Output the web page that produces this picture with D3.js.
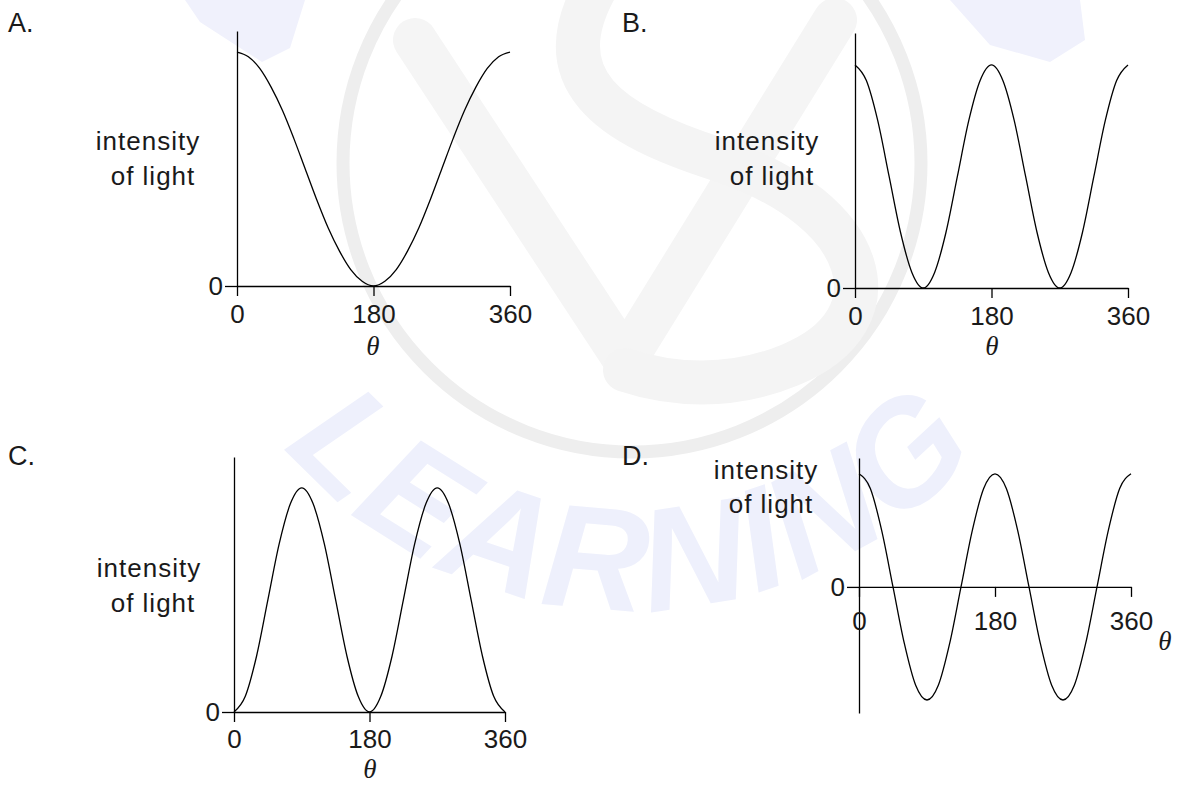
<!DOCTYPE html>
<html>
<head>
<meta charset="utf-8">
<script src="https://cdn.jsdelivr.net/npm/d3@7"></script>
<style>
  html, body { margin: 0; padding: 0; background: #fff; }
  svg { display: block; }
  text { font-family: "Liberation Sans", Arial, sans-serif; fill: #1a1a1a; }
</style>
</head>
<body>
<svg id="chart" width="1181" height="785"></svg>
<script>
// angle samples (degrees) and the four curves
var angles = [0, 15, 30, 45, 60, 75, 90, 105, 120, 135, 150, 165, 180,
              195, 210, 225, 240, 255, 270, 285, 300, 315, 330, 345, 360];

var seriesA = [1.00, 0.98, 0.93, 0.85, 0.75, 0.63, 0.50, 0.37, 0.25, 0.15, 0.07, 0.02, 0.00,
               0.02, 0.07, 0.15, 0.25, 0.37, 0.50, 0.63, 0.75, 0.85, 0.93, 0.98, 1.00];
var seriesB = [1.00, 0.93, 0.75, 0.50, 0.25, 0.07, 0.00, 0.07, 0.25, 0.50, 0.75, 0.93, 1.00,
               0.93, 0.75, 0.50, 0.25, 0.07, 0.00, 0.07, 0.25, 0.50, 0.75, 0.93, 1.00];
var seriesC = [0.00, 0.07, 0.25, 0.50, 0.75, 0.93, 1.00, 0.93, 0.75, 0.50, 0.25, 0.07, 0.00,
               0.07, 0.25, 0.50, 0.75, 0.93, 1.00, 0.93, 0.75, 0.50, 0.25, 0.07, 0.00];
var seriesD = [1.00, 0.87, 0.50, 0.00, -0.50, -0.87, -1.00, -0.87, -0.50, 0.00, 0.50, 0.87, 1.00,
               0.87, 0.50, 0.00, -0.50, -0.87, -1.00, -0.87, -0.50, 0.00, 0.50, 0.87, 1.00];

var xTickValues = [0, 180, 360];
var yTickValues = [0];
var panelNames = ["A.", "B.", "C.", "D."];
var yLabelLines = ["intensity", "of light"];
var xLabelText = "\u03b8";
var watermarkWord = "LEARNING";

// layout of each panel (pixels)
var panels = [
  { name: panelNames[0], values: seriesA, x0: 237, x1: 510, yBottom: 286, yTop: 31, yDomain: [0, 1.09],
    nameAt: [8, 32], labelAt: [[148, 150], [153, 185]], tickPad: 9, thetaAt: [373, 355] },
  { name: panelNames[1], values: seriesB, x0: 855, x1: 1128, yBottom: 288, yTop: 33, yDomain: [0, 1.143],
    nameAt: [622, 32], labelAt: [[767, 150], [772, 185]], tickPad: 9, thetaAt: [992, 355] },
  { name: panelNames[2], values: seriesC, x0: 234, x1: 505, yBottom: 712, yTop: 457, yDomain: [0, 1.138],
    nameAt: [8, 465], labelAt: [[149, 577], [153, 612]], tickPad: 8, thetaAt: [370, 778] },
  { name: panelNames[3], values: seriesD, x0: 859, x1: 1131, yBottom: 713, yTop: 458, yDomain: [-1.115, 1.14],
    nameAt: [622, 465], labelAt: [[766, 479], [771, 513]], tickPad: 15, thetaAt: [1165, 650] }
];

var svg = d3.select("#chart");
svg.append("rect").attr("width", 1181).attr("height", 785).attr("fill", "#fff");

// faint watermark behind the charts
var wm = svg.append("g").attr("class", "watermark");
wm.append("circle").attr("cx", 632).attr("cy", 163).attr("r", 289)
  .attr("fill", "none").attr("stroke", "#eeeeee").attr("stroke-width", 13);
wm.append("path").attr("d", "M415,40 L625,360 L835,20")
  .attr("fill", "none").attr("stroke", "#f5f5f5").attr("stroke-width", 44)
  .attr("stroke-linecap", "round").attr("stroke-linejoin", "round");
wm.append("path").attr("d", "M600,-20 C540,80 610,125 720,160 C870,210 900,320 790,365 C730,390 670,385 625,370")
  .attr("fill", "none").attr("stroke", "#f4f4f4").attr("stroke-width", 44)
  .attr("stroke-linecap", "round");
wm.append("path").attr("d", "M185,0 L305,0 L290,48 L262,62 L200,22 Z").attr("fill", "#f0f1fc");
wm.append("path").attr("d", "M950,0 L1080,0 L1085,40 L1050,62 L990,45 Z").attr("fill", "#f0f1fc");

var arcR = 452, arcCx = 632, arcCy = 158;
var a0 = 165 * Math.PI / 180, a1 = 15 * Math.PI / 180;
wm.append("path").attr("id", "wmArc").attr("fill", "none")
  .attr("d", "M" + (arcCx + arcR * Math.cos(a0)) + "," + (arcCy + arcR * Math.sin(a0)) +
        " A" + arcR + "," + arcR + " 0 0 0 " + (arcCx + arcR * Math.cos(a1)) + "," + (arcCy + arcR * Math.sin(a1)));
wm.append("text")
  .style("fill", "#eef0fc").attr("font-size", 146).attr("font-weight", 900).attr("font-style", "italic")
  .attr("letter-spacing", 4)
  .append("textPath").attr("href", "#wmArc").attr("startOffset", "50%").attr("text-anchor", "middle")
  .text(watermarkWord);

var line = d3.line().curve(d3.curveMonotoneX);

panels.forEach(function(p) {
  var x = d3.scaleLinear().domain([0, 360]).range([p.x0, p.x1]);
  var y = d3.scaleLinear().domain(p.yDomain).range([p.yBottom, p.yTop]);
  var g = svg.append("g");

  // y axis with the single 0 tick
  var yAxis = g.append("g").attr("transform", "translate(" + p.x0 + ",0)")
    .call(d3.axisLeft(y).tickValues(yTickValues).tickFormat(d3.format("d"))
      .tickSize(12).tickSizeOuter(0).tickPadding(2));

  // x axis through the zero line
  var xAxis = g.append("g").attr("transform", "translate(0," + y(0) + ")")
    .call(d3.axisBottom(x).tickValues(xTickValues).tickFormat(d3.format("d"))
      .tickSize(10).tickSizeOuter(0).tickPadding(p.tickPad));

  [yAxis, xAxis].forEach(function(ax) {
    ax.selectAll("path, line").attr("stroke", "#000").attr("stroke-width", 1.3);
    ax.selectAll("text").attr("font-size", 26).attr("font-family", "'Liberation Sans', Arial, sans-serif")
      .style("fill", "#1a1a1a");
  });

  // curve
  g.append("path")
    .attr("d", line(angles.map(function(a, i) { return [x(a), y(p.values[i])]; })))
    .attr("fill", "none").attr("stroke", "#000").attr("stroke-width", 1.3);

  // labels
  g.append("text").attr("x", p.nameAt[0]).attr("y", p.nameAt[1]).attr("font-size", 27).text(p.name);
  yLabelLines.forEach(function(t, i) {
    g.append("text").attr("x", p.labelAt[i][0]).attr("y", p.labelAt[i][1])
      .attr("text-anchor", "middle").attr("font-size", 26).attr("letter-spacing", 1).text(t);
  });
  g.append("text").attr("x", p.thetaAt[0]).attr("y", p.thetaAt[1]).attr("text-anchor", "middle")
    .attr("font-size", 27).attr("font-style", "italic")
    .style("font-family", "'Liberation Serif', 'Times New Roman', serif").text(xLabelText);
});
</script>
</body>
</html>
